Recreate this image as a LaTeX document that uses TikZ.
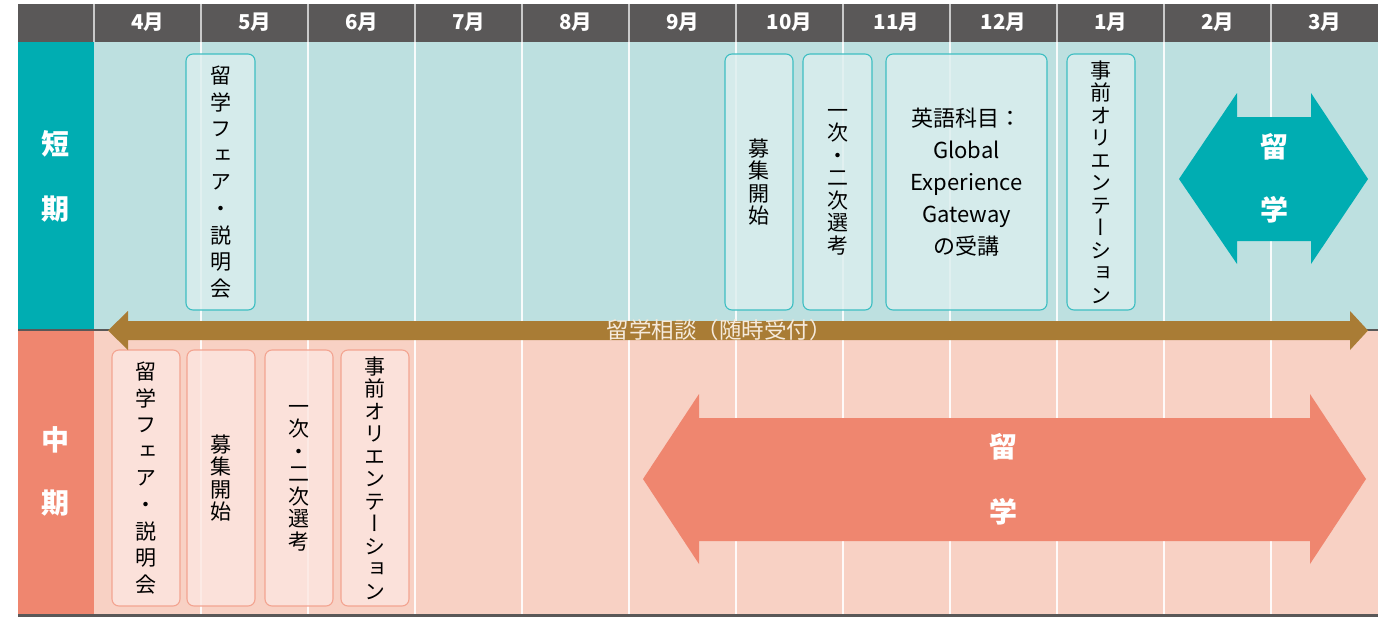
\documentclass[tikz,border=0pt]{standalone}
\usepackage{fontspec}
\setmainfont{Noto Sans CJK JP}
\newfontfamily\vjp[RawFeature=+vert]{Noto Sans CJK JP}
\definecolor{hdr}{HTML}{5A5858}
\definecolor{tealc}{HTML}{00ADB2}
\definecolor{topbg}{HTML}{BDE0E0}
\definecolor{tboxfill}{HTML}{DCEEEE}
\definecolor{tboxdraw}{HTML}{3DBEC2}
\definecolor{salmonc}{HTML}{EF866F}
\definecolor{botbg}{HTML}{F8D1C4}
\definecolor{sboxfill}{HTML}{FCE6E0}
\definecolor{sboxdraw}{HTML}{F3A491}
\definecolor{brownc}{HTML}{A97C35}
\definecolor{hdrline}{HTML}{C9C9C9}
\definecolor{brownlbl}{HTML}{F5EADC}
\tikzset{
  monthlbl/.style={text=white, font=\bfseries\fontsize{20.5}{22}\selectfont, inner sep=0pt},
  sidelbl/.style={text=white, font=\bfseries\fontsize{28}{30}\selectfont, inner sep=0pt},
  arrowlbl/.style={text=white, font=\bfseries\fontsize{28}{30}\selectfont, inner sep=0pt},
  evbox/.style={rounded corners=7pt, line width=1.1pt, minimum height=256pt, inner sep=0pt, align=center, text=black},
  tbox/.style={evbox, draw=tboxdraw, fill=tboxfill, fill opacity=0.8, text opacity=1},
  sbox/.style={evbox, draw=sboxdraw, fill=sboxfill, fill opacity=0.8, text opacity=1},
  vt/.style={font=\vjp\fontsize{21}{22.5}\selectfont},
  vtwide/.style={font=\vjp\fontsize{21}{26.6}\selectfont},
  gridline/.style={white, line width=1.6pt, opacity=0.9},
  hdrgrid/.style={hdrline, line width=1.6pt},
  sodanfont/.style={font=\fontsize{22.5}{24}\selectfont, inner sep=0pt}
}
\begin{document}
\begin{tikzpicture}[x=1pt,y=-1pt]
\useasboundingbox (0,0) rectangle (1397,618);
\fill[white] (0,0) rectangle (1397,618);
% backgrounds
\fill[hdr] (18,4) rectangle (1378,42);
\fill[tealc] (18,42) rectangle (94,329);
\fill[topbg] (94,42) rectangle (1378,329);
\fill[salmonc] (18,330) rectangle (94,614);
\fill[botbg] (94,330) rectangle (1378,614);
\draw[hdr, line width=2pt] (18,329.5) -- (1378,329.5);
\draw[hdr, line width=3pt] (18,615.5) -- (1378,615.5);
% grid
\foreach \i in {0,...,11} \draw[hdrgrid] ({94+107*\i},4) -- ({94+107*\i},42);
\foreach \i in {1,...,11} \draw[gridline] ({94+107*\i},42) -- ({94+107*\i},614);
% month labels
\foreach \m [count=\i from 0] in {4,5,6,7,8,9,10,11,12,1,2,3}
  \node[monthlbl] (m\i) at ({94+107*(\i+0.5)},22) {\m{}月};
% side labels
\node[sidelbl] (tan) at (55,144) {短};
\node[sidelbl] (kia) at (55,209) {期};
\node[sidelbl] (chu) at (55,440) {中};
\node[sidelbl] (kib) at (55,503) {期};
% top boxes
\node[tbox, vtwide, minimum width=69pt] (f1) at (220.5,182) {留\\学\\フ\\ェ\\ア\\・\\説\\明\\会};
\node[tbox, vt, minimum width=68pt] (b1) at (759,182) {募\\集\\開\\始};
\node[tbox, vt, minimum width=69pt] (s1) at (837.5,182) {一\\次\\・\\二\\次\\選\\考};
\node[tbox, minimum width=161pt, font=\fontsize{22}{32}\selectfont] (e1) at (966.5,182) {英語科目：\\Global\\Experience\\Gateway\\の受講};
\node[tbox, vt, minimum width=68pt] (o1) at (1101,182) {事\\前\\オ\\リ\\エ\\ン\\テ\\ー\\シ\\ョ\\ン};
% bottom boxes
\node[sbox, vtwide, minimum width=68pt] (f2) at (146,478) {留\\学\\フ\\ェ\\ア\\・\\説\\明\\会};
\node[sbox, vt, minimum width=68pt] (b2) at (221,478) {募\\集\\開\\始};
\node[sbox, vt, minimum width=68pt] (s2) at (299,478) {一\\次\\・\\二\\次\\選\\考};
\node[sbox, vt, minimum width=68pt] (o2) at (375,478) {事\\前\\オ\\リ\\エ\\ン\\テ\\ー\\シ\\ョ\\ン};
% teal double arrow
\fill[tealc] (1179,179) -- (1237,93) -- (1237,117) -- (1311,117) -- (1311,93) -- (1368,179)
  -- (1311,264) -- (1311,241) -- (1237,241) -- (1237,264) -- cycle;
\node[arrowlbl] (ryu1) at (1274,147) {留};
\node[arrowlbl] (gaku1) at (1274,210) {学};
% salmon double arrow
\fill[salmonc] (643,479) -- (699,394) -- (699,418) -- (1310,418) -- (1310,394) -- (1366,479)
  -- (1310,564) -- (1310,541) -- (699,541) -- (699,564) -- cycle;
\node[arrowlbl] (ryu2) at (1003,447) {留};
\node[arrowlbl] (gaku2) at (1003,512) {学};
% brown double arrow
\fill[brownc] (108,330.5) -- (128,311) -- (128,321) -- (1350,321) -- (1350,311) -- (1368,330.5)
  -- (1350,350) -- (1350,340) -- (128,340) -- (128,350) -- cycle;
\node[sodanfont, text=brownlbl] (sodan) at (719,329.5) {留学相談（随時受付）};
\end{tikzpicture}
\end{document}
